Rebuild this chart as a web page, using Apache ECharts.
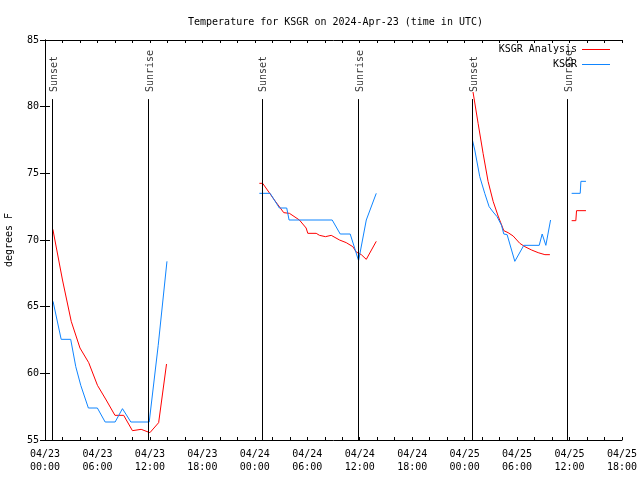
<!DOCTYPE html>
<html>
<head>
<meta charset="utf-8">
<script src="https://cdn.jsdelivr.net/npm/echarts@6/dist/echarts.min.js"></script>
<style>html,body{margin:0;padding:0;background:#fff}#c{width:640px;height:480px}</style>
</head>
<body>
<div id="c"></div>
<script>
// Hours since 2024-04-23 00:00 UTC; null marks a gap between night segments
const analysisHours = [0.9, 2, 3, 4, 5, 6, 7, 8, 9, 10, 11, 12, 13, 13.9, null,
  24.52, 24.9, 26.24, 27.31, 27.96, 29.1, 29.87, 30.06, 31.02, 31.4, 32.08, 32.74, 33.69, 34.46, 35.21, 35.6, 36.18, 36.75, 37.89, null,
  48.96, 49.54, 50.11, 50.68, 51.26, 51.83, 52.48, 52.97, 53.55, 54.31, 54.89, 55.66, 56.41, 57.18, 57.75, null,
  60.24, 60.72, 60.8, 61.88];
const analysisTemps = [70.8, 67.0, 63.9, 61.9, 60.8, 59.1, 58.0, 56.85, 56.85, 55.7, 55.8, 55.55, 56.3, 60.7, null,
  74.25, 74.25, 73.0, 72.05, 72.0, 71.5, 70.9, 70.5, 70.5, 70.35, 70.25, 70.35, 70.0, 69.8, 69.5, 69.1, 68.9, 68.55, 69.9, null,
  81.1, 78.75, 76.5, 74.4, 72.9, 71.8, 70.7, 70.55, 70.3, 69.75, 69.5, 69.25, 69.05, 68.9, 68.9, null,
  71.45, 71.45, 72.2, 72.2];
const obsHours = [0.92, 1.85, 2.94, 3.52, 4.09, 4.96, 5.99, 6.88, 8.02, 8.86, 9.82, 11.92, 12.95, 13.95, null,
  24.52, 25.75, 26.81, 27.65, 27.92, 32.85, 33.77, 34.91, 35.87, 36.75, 37.89, null,
  48.89, 49.16, 49.73, 50.3, 50.8, 51.26, 51.71, 52.22, 52.48, 52.86, 53.74, 54.77, 56.53, 56.87, 57.29, 57.83, null,
  60.24, 61.22, 61.3, 61.88];
const obsTemps = [65.4, 62.55, 62.55, 60.5, 59.1, 57.4, 57.4, 56.35, 56.35, 57.35, 56.35, 56.35, 62.1, 68.4, null,
  73.5, 73.5, 72.4, 72.4, 71.5, 71.5, 70.45, 70.45, 68.45, 71.5, 73.5, null,
  77.5, 76.75, 74.75, 73.5, 72.5, 72.1, 71.75, 71.1, 70.45, 70.4, 68.4, 69.6, 69.6, 70.45, 69.6, 71.5, null,
  73.5, 73.5, 74.4, 74.4];
const sunsetHours = [0.85, 24.8, 48.85];
const sunriseHours = [11.83, 35.82, 59.74];
const sunLineTop = 80.57;
const sunLabelTemp = 81.1;
const xMin = 0, xMax = 66, xStep = 2, xLabelEvery = 6;
const yMin = 55, yMax = 85, yStep = 5;
const titleText = 'Temperature for KSGR on 2024-Apr-23 (time in UTC)';
const yName = 'degrees F';
const seriesNames = ['KSGR Analysis', 'KSGR'];

const FONT = '"DejaVu Sans Mono", monospace';
function pairs(hs, ts) {
  return hs.map((h, i) => (h === null || ts[i] === null) ? ['-', '-'] : [h, ts[i]]);
}
function pad(n) { return (n < 10 ? '0' : '') + n; }
function fmtX(v) {
  if (Math.abs(v % xLabelEvery) > 1e-6) return '';
  const day = 23 + Math.floor(v / 24);
  const hr = Math.round(v % 24);
  return '04/' + pad(day) + '\n' + pad(hr) + ':00';
}
const sunEvents = sunsetHours.map(h => ({h: h, name: 'Sunset'}))
  .concat(sunriseHours.map(h => ({h: h, name: 'Sunrise'})));

const axisLineStyle = {color: '#000', width: 1};
const chart = echarts.init(document.getElementById('c'), null, {renderer: 'canvas'});
chart.setOption({
  animation: false,
  backgroundColor: '#fff',
  title: {
    text: titleText, left: 183, top: 12,
    textStyle: {fontFamily: FONT, fontSize: 10, fontWeight: 'normal', color: '#000'}
  },
  legend: {
    orient: 'vertical', right: 25, top: 38, align: 'right',
    icon: 'rect', itemWidth: 28, itemHeight: 1, itemGap: 2,
    data: seriesNames,
    formatter: n => n.padStart(13, '\u00a0'),
    textStyle: {fontFamily: FONT, fontSize: 10, color: '#000', lineHeight: 13}
  },
  grid: {left: 45, right: 18, top: 40, bottom: 40, containLabel: false, outerBoundsMode: 'none'},
  xAxis: [{
    type: 'value', min: xMin, max: xMax, interval: xStep, position: 'bottom',
    axisLine: {lineStyle: axisLineStyle},
    axisTick: {inside: true, length: 3, lineStyle: axisLineStyle},
    axisLabel: {formatter: fmtX, fontFamily: FONT, fontSize: 10, color: '#000', margin: 8, lineHeight: 13},
    splitLine: {show: false}
  }, {
    type: 'value', min: xMin, max: xMax, interval: xStep, position: 'top',
    axisLine: {lineStyle: axisLineStyle},
    axisTick: {inside: true, length: 3, lineStyle: axisLineStyle},
    axisLabel: {show: false}, splitLine: {show: false}
  }],
  yAxis: [{
    type: 'value', min: yMin, max: yMax, interval: yStep, position: 'left',
    name: yName, nameLocation: 'middle', nameGap: 31,
    nameTextStyle: {fontFamily: FONT, fontSize: 10, color: '#000'},
    axisLine: {show: true, lineStyle: axisLineStyle},
    axisTick: {show: true, inside: true, length: 5, lineStyle: axisLineStyle},
    axisLabel: {fontFamily: FONT, fontSize: 10, color: '#000', margin: 6},
    splitLine: {show: false}
  }, {
    type: 'value', min: yMin, max: yMax, interval: yStep, position: 'right',
    axisLine: {show: true, lineStyle: axisLineStyle},
    axisTick: {show: true, inside: true, length: 5, lineStyle: axisLineStyle},
    axisLabel: {show: false}, splitLine: {show: false}
  }],
  series: [{
    name: seriesNames[0], type: 'line', symbol: 'none', z: 3,
    color: '#ff0000', lineStyle: {color: '#ff0000', width: 1},
    data: pairs(analysisHours, analysisTemps),
    markLine: {
      silent: true, symbol: ['none', 'none'], animation: false,
      lineStyle: {color: '#000', width: 1, type: 'solid'},
      label: {show: false},
      data: sunEvents.map(e => [{coord: [e.h, yMin]}, {coord: [e.h, sunLineTop]}])
    }
  }, {
    name: seriesNames[1], type: 'line', symbol: 'none', z: 4,
    color: '#0f85ff', lineStyle: {color: '#0f85ff', width: 1},
    data: pairs(obsHours, obsTemps)
  }, {
    name: 'sun', type: 'scatter', symbolSize: 1, silent: true,
    itemStyle: {color: 'rgba(0,0,0,0)'},
    label: {
      show: true, position: 'inside', rotate: 90, align: 'left', verticalAlign: 'middle',
      offset: [0, 2],
      formatter: p => p.name, fontFamily: FONT, fontSize: 10, color: '#000'
    },
    data: sunEvents.map(e => ({name: e.name, value: [e.h, sunLabelTemp]}))
  }]
});
</script>
</body>
</html>
